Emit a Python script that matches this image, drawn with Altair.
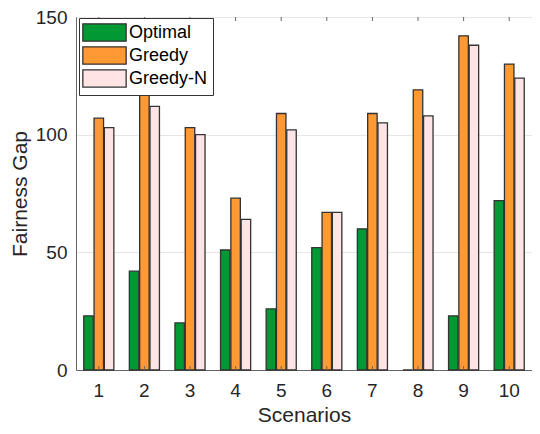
import altair as alt
import pandas as pd

scenarios = [1, 2, 3, 4, 5, 6, 7, 8, 9, 10]
optimal = [23, 42, 20, 51, 26, 52, 60, 0, 23, 72]
greedy = [107, 117, 103, 73, 109, 67, 109, 119, 142, 130]
greedy_n = [103, 112, 100, 64, 102, 67, 105, 108, 138, 124]
series = ["Optimal", "Greedy", "Greedy-N"]
colors = ["#009933", "#FF9933", "#FFE4E6"]

rows = []
for name, vals in zip(series, [optimal, greedy, greedy_n]):
    for s, v in zip(scenarios, vals):
        rows.append({"Scenario": s, "Method": name, "Value": v})
df = pd.DataFrame(rows)
tick_df = pd.DataFrame({"Scenario": scenarios})

FONT = "Liberation Sans"
W, H = 456, 353

xscale = alt.Scale(paddingInner=0.34, paddingOuter=0.17)

bars = alt.Chart(df).mark_bar(stroke="#333333", strokeWidth=1.3).encode(
    x=alt.X("Scenario:O", scale=xscale,
            axis=alt.Axis(title="Scenarios", labelAngle=0, ticks=False,
                          labelPadding=11, labelFontSize=19, titleFontSize=21,
                          titlePadding=4, domainColor="#666666",
                          labelColor="#262626", titleColor="#262626",
                          titleFontWeight="normal", labelFont=FONT, titleFont=FONT)),
    xOffset=alt.XOffset("Method:N", sort=series,
                        scale=alt.Scale(paddingInner=0.08)),
    y=alt.Y("Value:Q", scale=alt.Scale(domain=[0, 150], nice=False),
            axis=alt.Axis(title="Fairness Gap", values=[0, 50, 100, 150],
                          ticks=False, labelPadding=9, labelFontSize=19,
                          titleFontSize=21, titlePadding=5,
                          domainColor="#666666", gridColor="#e6e6e6",
                          labelColor="#262626", titleColor="#262626",
                          titleFontWeight="normal", labelFont=FONT, titleFont=FONT)),
    color=alt.Color("Method:N", sort=series,
                    scale=alt.Scale(domain=series, range=colors),
                    legend=alt.Legend(title=None, orient="none", legendX=3, legendY=1,
                                      symbolType="M-2.5,-1H2.5V1H-2.5Z",
                                      symbolSize=300, symbolStrokeColor="#333333",
                                      symbolStrokeWidth=1.3, symbolOffset=11,
                                      labelFontSize=18, labelFont=FONT,
                                      labelColor="#000000", labelOffset=15,
                                      rowPadding=0, padding=5,
                                      strokeColor="#333333", fillColor="white",
                                      symbolOpacity=1)),
)

top_ticks = alt.Chart(tick_df).mark_rule(color="#666666", strokeWidth=1).encode(
    x=alt.X("Scenario:O", scale=xscale),
    y=alt.value(0),
    y2=alt.value(4),
)
bottom_ticks = alt.Chart(tick_df).mark_rule(color="#666666", strokeWidth=1).encode(
    x=alt.X("Scenario:O", scale=xscale),
    y=alt.value(H - 4),
    y2=alt.value(H),
)

chart = alt.layer(bars, top_ticks, bottom_ticks).properties(
    width=W, height=H,
    autosize=alt.AutoSizeParams(type="none"),
    padding={"left": 68, "top": 9, "right": 0, "bottom": 56},
).configure_view(stroke="#666666", strokeWidth=1).configure(
    background="white"
)

chart.save("out.html", embed_options={"renderer": "svg", "actions": False})
